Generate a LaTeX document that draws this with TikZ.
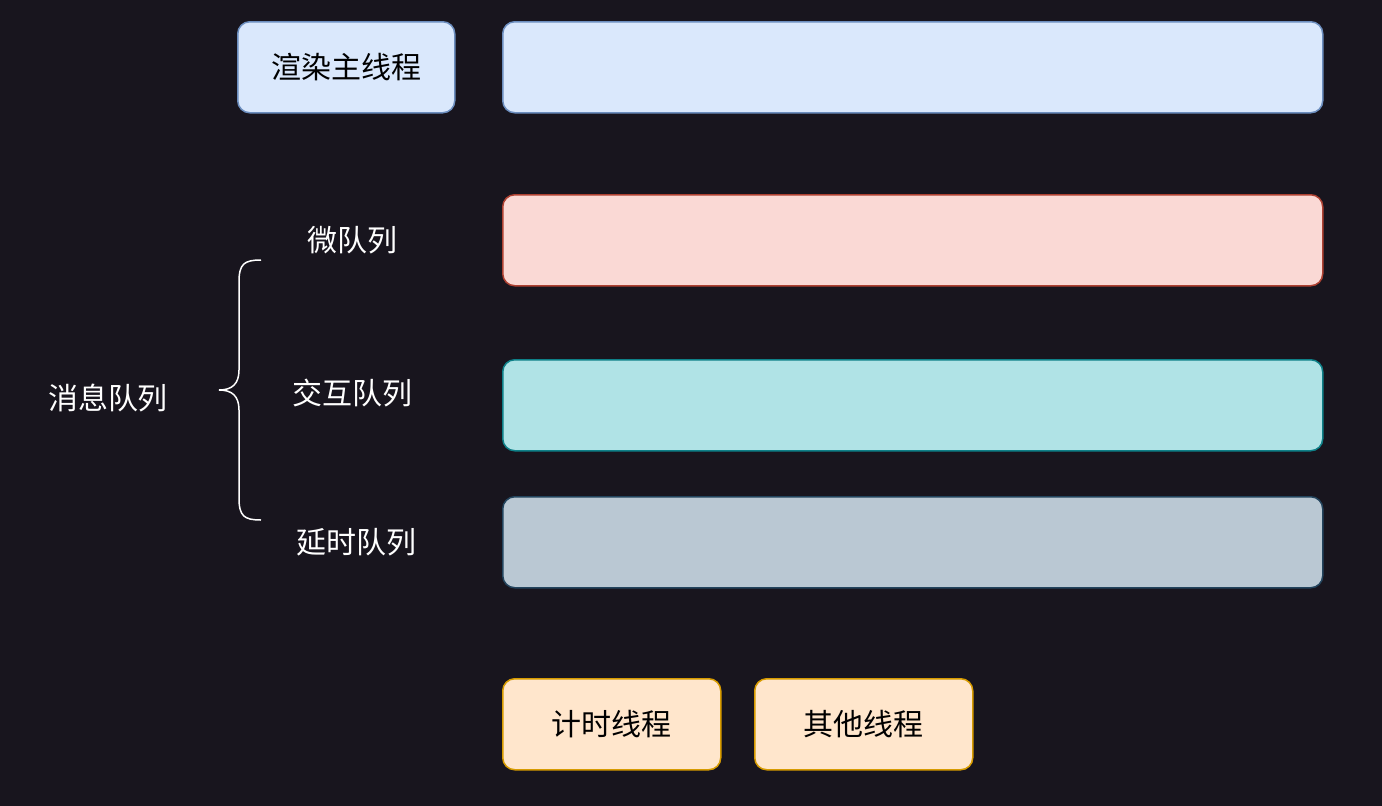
\documentclass[tikz,border=0pt]{standalone}
\usepackage{fontspec}
\newfontfamily\cjk{Noto Sans CJK SC}
\definecolor{bg}{HTML}{18151E}
\definecolor{bluefill}{HTML}{DAE8FC}\definecolor{bluedraw}{HTML}{6C8EBF}
\definecolor{redfill}{HTML}{FAD9D5}\definecolor{reddraw}{HTML}{AE4132}
\definecolor{tealfill}{HTML}{B0E3E6}\definecolor{tealdraw}{HTML}{0E8088}
\definecolor{greyfill}{HTML}{BAC8D3}\definecolor{greydraw}{HTML}{23445D}
\definecolor{orfill}{HTML}{FFE6CC}\definecolor{ordraw}{HTML}{D79B00}
\tikzset{
  box/.style={rounded corners=12pt, line width=1.5pt, inner sep=0pt, anchor=north west},
  lbl/.style={text=white, font=\cjk\fontsize{30}{36}\selectfont},
  btxt/.style={text=black, font=\cjk\fontsize{30}{36}\selectfont},
}
\begin{document}
\begin{tikzpicture}[x=1pt,y=-1pt]
\fill[bg] (0,0) rectangle (1382,806);
\useasboundingbox (0,0) rectangle (1382,806);
% boxes
\node[box, fill=bluefill, draw=bluedraw, minimum width=217pt, minimum height=91pt] (render) at (237,21) {};
\node[btxt] at (render.center) {渲染主线程};
\node[box, fill=bluefill, draw=bluedraw, minimum width=820pt, minimum height=91pt] (mainbar) at (502,21) {};
\node[box, fill=redfill, draw=reddraw, minimum width=820pt, minimum height=91pt] (microbar) at (502,194) {};
\node[box, fill=tealfill, draw=tealdraw, minimum width=820pt, minimum height=91pt] (interbar) at (502,359) {};
\node[box, fill=greyfill, draw=greydraw, minimum width=820pt, minimum height=91pt] (delaybar) at (502,496) {};
\node[box, fill=orfill, draw=ordraw, minimum width=218pt, minimum height=91pt] (timer) at (502,678) {};
\node[btxt] at (timer.center) {计时线程};
\node[box, fill=orfill, draw=ordraw, minimum width=218pt, minimum height=91pt] (other) at (754,678) {};
\node[btxt] at (other.center) {其他线程};
% labels
\node[lbl] (micro) at (352,240) {微队列};
\node[lbl] (inter) at (352,393) {交互队列};
\node[lbl] (delay) at (356,542) {延时队列};
\node[lbl] (msg) at (108,398) {消息队列};
% brace
\coordinate (btop) at (261,260);
\coordinate (bbot) at (261,520);
\coordinate (btip) at (219,390);
\draw[white, line width=1.5pt] (btop) .. controls (244,260) and (239,264) .. (239,282)
  -- (239,370) .. controls (239,384) and (232,390) .. (btip)
  (btip) .. controls (232,390) and (239,396) .. (239,410)
  -- (239,498) .. controls (239,516) and (244,520) .. (bbot);
\end{tikzpicture}
\end{document}
